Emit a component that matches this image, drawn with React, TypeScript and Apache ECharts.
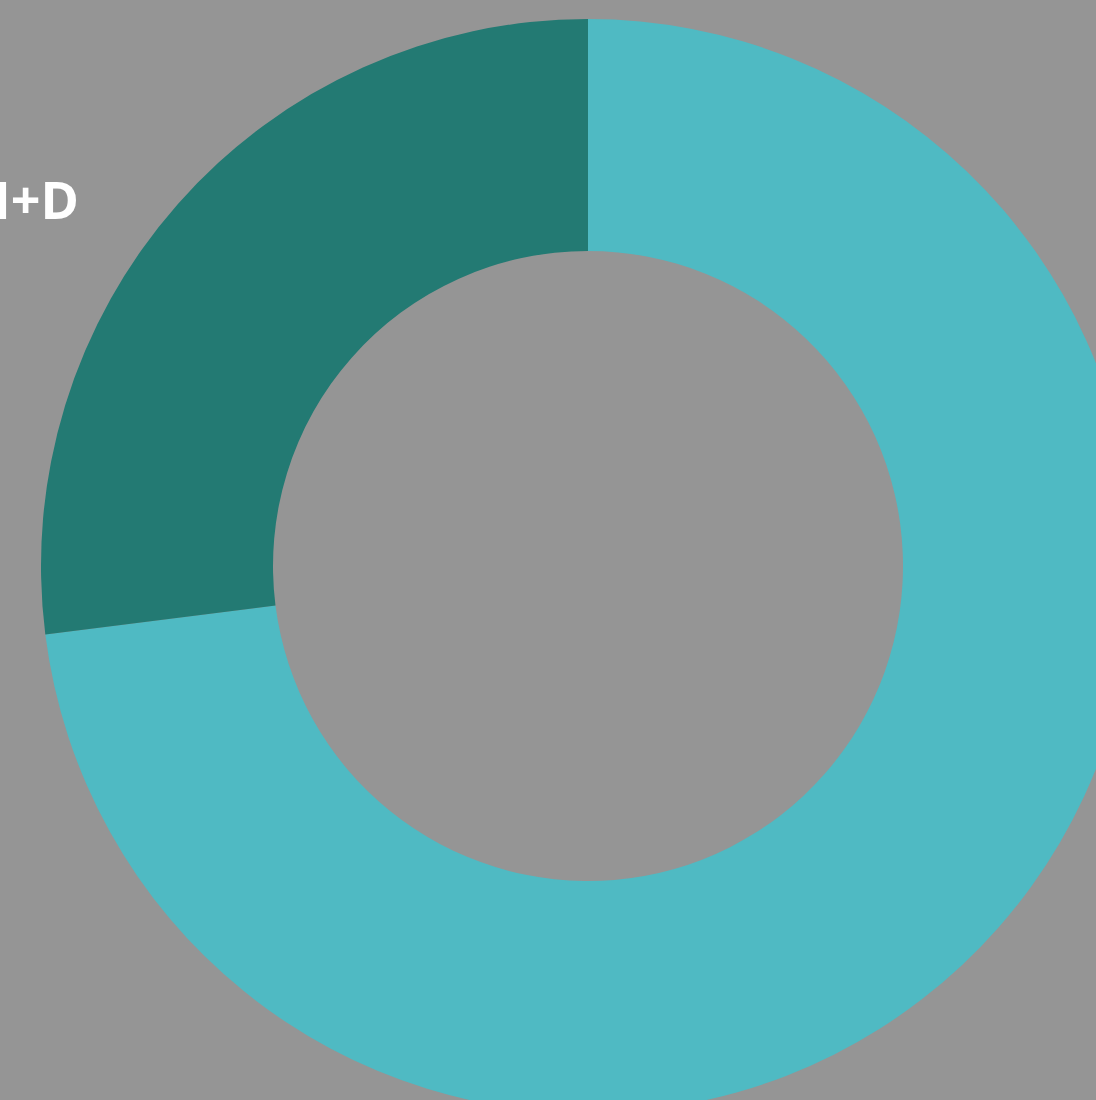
import React, { useEffect, useRef } from "react";
import * as echarts from "echarts";

const categories = ["Resto", "I+D"];
const values = [73, 27];
const colors = ["#4FBAC3", "#237A73"];

export default function App() {
  const ref = useRef<HTMLDivElement>(null);
  useEffect(() => {
    if (!ref.current) return;
    const chart = echarts.init(ref.current, null, { renderer: "svg" });
    chart.setOption({
      animation: false,
      backgroundColor: "#959595",
      graphic: [
        {
          type: "text",
          x: 79,
          y: 198,
          style: {
            text: categories[1],
            fill: "#ffffff",
            font: "bold 52px 'Open Sans', sans-serif",
            textAlign: "right",
            textVerticalAlign: "middle",
          },
        },
      ],
      series: [
        {
          type: "pie",
          center: [588, 566],
          radius: [315, 547],
          startAngle: 90,
          clockwise: true,
          label: { show: false },
          labelLine: { show: false },
          emphasis: { disabled: true },
          silent: true,
          itemStyle: { borderWidth: 0 },
          data: categories.map((name, i) => ({
            name,
            value: values[i],
            itemStyle: { color: colors[i] },
          })),
        },
      ],
    });
    return () => chart.dispose();
  }, []);
  return (
    <div
      ref={ref}
      style={{ position: "fixed", left: 0, top: 0, width: 1096, height: 1100 }}
    />
  );
}
